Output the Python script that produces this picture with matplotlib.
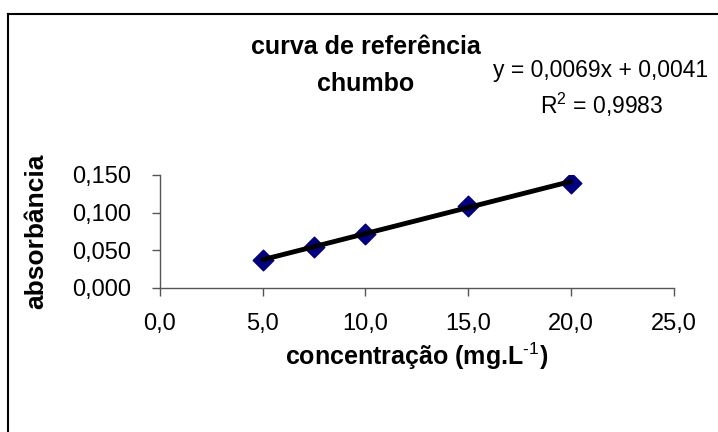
import matplotlib
matplotlib.use("Agg")
import matplotlib.pyplot as plt
from matplotlib.lines import Line2D
import numpy as np

# dados da curva de referência (chumbo)
concentracao = [5.0, 7.5, 10.0, 15.0, 20.0]
absorbancia = [0.037, 0.054, 0.072, 0.109, 0.140]
xticks = [0.0, 5.0, 10.0, 15.0, 20.0, 25.0]
yticks = [0.000, 0.050, 0.100, 0.150]
equacao = "y = 0,0069x + 0,0041"
r2 = "R$^2$ = 0,9983"

plt.rcParams['font.family'] = ['Liberation Sans', 'DejaVu Sans']
plt.rcParams['mathtext.fontset'] = 'custom'
plt.rcParams['mathtext.rm'] = 'Liberation Sans'
plt.rcParams['mathtext.bf'] = 'Liberation Sans:bold'

fig = plt.figure(figsize=(7.18, 4.32), dpi=100)
W, H = 718, 432
ax = fig.add_axes([160/W, 1-287.7/H, (673.5-160)/W, (287.7-175)/H])

ax.scatter(concentracao, absorbancia, marker='D', s=110, color='#000080', zorder=2)
# linha de tendência
a, b = np.polyfit(concentracao, absorbancia, 1)
xs = np.array([min(concentracao), max(concentracao)])
ax.plot(xs, a*xs+b, color='black', lw=3.5, zorder=3, solid_capstyle='round')

ax.set_xlim(0, 25)
ax.set_ylim(0, 0.15)
ax.set_xticks(xticks)
ax.set_xticklabels([f"{v:.1f}".replace('.', ',') for v in xticks], fontsize=17)
ax.set_yticks(yticks)
ax.set_yticklabels([f"{v:.3f}".replace('.', ',') for v in yticks], fontsize=17)
ax.spines['top'].set_visible(False)
ax.spines['right'].set_visible(False)
for s in ['left', 'bottom']:
    ax.spines[s].set_color('#555555')
    ax.spines[s].set_linewidth(1.0)
ax.tick_params(length=6, width=1.0, color='#555555', pad=12)
ax.tick_params(axis='y', pad=15)
ax.set_xlabel(r"concentração (mg.L$^{\text{-}1}$)", fontsize=18, fontweight='bold', labelpad=4)
ax.set_ylabel("absorbância", fontsize=19, fontweight='bold')
ax.yaxis.set_label_coords(-(160-48)/(673.5-160), 0.5)

fig.text(366/W, 1-47/H, "curva de referência", ha='center', va='center', fontsize=18, fontweight='bold')
fig.text(366/W, 1-84/H, "chumbo", ha='center', va='center', fontsize=18, fontweight='bold')
fig.text(601/W, 1-71/H, equacao, ha='center', va='center', fontsize=16.5)
fig.text(602/W, 1-105/H, r2, ha='center', va='center', fontsize=16.5)

# moldura
fig.add_artist(Line2D([8/W, 8/W], [0, 1-14/H], color='black', lw=1.5, transform=fig.transFigure))
fig.add_artist(Line2D([8/W, 1], [1-14/H, 1-14/H], color='black', lw=1.5, transform=fig.transFigure))

fig.savefig("out.png", dpi=100)
